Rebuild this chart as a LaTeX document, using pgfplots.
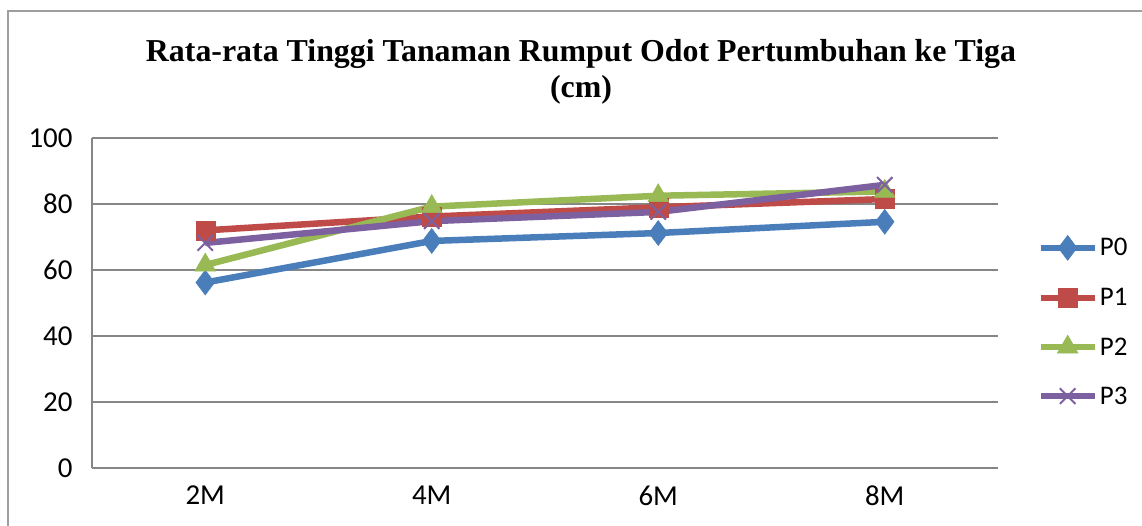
\documentclass[border=0pt]{standalone}
\usepackage{pgfplots}
\pgfplotsset{compat=1.18}
\usepackage{fontspec}
\setmainfont{Carlito}
\newfontfamily\titlefont{Liberation Serif}
\definecolor{cP0}{HTML}{4A7EBB}
\definecolor{cP1}{HTML}{BE4B48}
\definecolor{cP2}{HTML}{98B954}
\definecolor{cP3}{HTML}{7D60A0}
\definecolor{cgrid}{HTML}{868686}
\begin{document}
\begin{tikzpicture}[x=1bp,y=1bp]
\path[use as bounding box] (0,0) rectangle (1142,526);
\draw[cgrid!80, line width=1.5bp] (8,-5) -- (8,515) -- (1150,515);
\node[anchor=base, font=\fontsize{32}{38}\selectfont\titlefont\bfseries] at (581,464) {Rata-rata Tinggi Tanaman Rumput Odot Pertumbuhan ke Tiga};
\node[anchor=base, font=\fontsize{32}{38}\selectfont\titlefont\bfseries] at (581,428) {(cm)};
\begin{axis}[
  at={(92bp,58bp)}, anchor=south west,
  scale only axis, width=906bp, height=330bp,
  xmin=-0.5, xmax=3.5, ymin=0, ymax=100,
  ytick={0,20,40,60,80,100},
  xtick={0,1,2,3}, xticklabels={2M,4M,6M,8M},
  ymajorgrids, grid style={cgrid, line width=1.5bp},
  axis x line*=bottom, axis y line*=left,
  axis line style={cgrid, line width=1.5bp},
  major tick length=0pt,
  tick label style={font=\fontsize{29}{34}\selectfont},
  /pgf/number format/assume math mode=true,
  yticklabel style={xshift=-16bp},
  xticklabel style={yshift=-14bp},
  legend style={at={(1.04,0.444)}, anchor=west, draw=none, fill=none,
    font=\fontsize{27}{32}\selectfont, row sep=26bp,
    nodes={inner sep=2bp}},
  legend cell align=left,
  legend image code/.code={\draw[mark repeat=2,mark phase=2,#1] plot coordinates {(0bp,0bp) (27bp,0bp) (54bp,0bp)};},
  every axis plot/.append style={line width=6.5bp, mark options={solid}},
  clip=false,
]
\addplot[cP0, mark=diamond*, mark size=12.5bp, mark options={line width=0.5bp, fill=cP0}] coordinates {(0,56.2) (1,68.8) (2,71.2) (3,74.6)};
\addlegendentry{P0}
\addplot[cP1, mark=square*, mark size=9.5bp, mark options={line width=0.5bp, fill=cP1}] coordinates {(0,72) (1,76.2) (2,79) (3,81.5)};
\addlegendentry{P1}
\addplot[cP2, mark=triangle*, mark size=12bp, mark options={line width=0.5bp, fill=cP2}] coordinates {(0,61.5) (1,79.2) (2,82.5) (3,83.8)};
\addlegendentry{P2}
\addplot[cP3, mark=x, mark size=11bp, mark options={line width=2bp}] coordinates {(0,68.2) (1,74.8) (2,77.6) (3,85.8)};
\addlegendentry{P3}
\end{axis}
\end{tikzpicture}
\end{document}
